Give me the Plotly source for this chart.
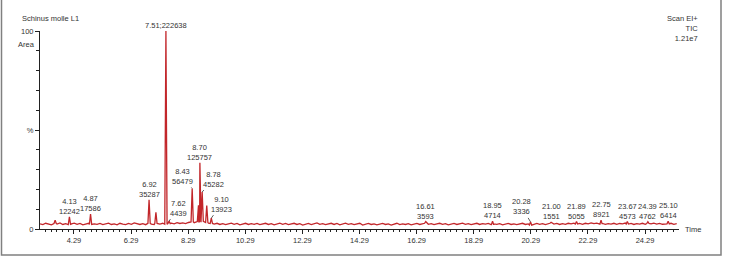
import plotly.graph_objects as go

# ---------------- data ----------------
BASE_START = 3.1   # min
BASE_STEP = 0.1    # min
baseline = [
    2.6, 2.2, 2.9, 2.4, 2.1, 2.8, 2.5, 3.1, 2.3, 2.7, 2.2, 2.6, 3.0, 2.4, 2.8, 2.1, 2.5, 2.9, 2.3, 2.6,
    2.4, 2.8, 2.2, 2.7, 3.0, 2.3, 2.6, 2.1, 2.9, 2.5, 2.2, 2.8, 2.4, 3.1, 2.6, 2.3, 2.7, 2.2, 2.9, 2.5,
    2.3, 2.8, 2.5, 2.9, 2.4, 2.7, 3.0, 2.6, 3.2, 2.8, 3.1, 2.7, 3.3, 3.6, 3.2, 3.8, 3.4, 3.9, 3.3, 3.0,
    2.8, 2.5, 2.9, 2.3, 2.7, 2.2, 2.6, 3.0, 2.4, 2.8, 2.1, 2.5, 2.9, 2.3, 2.7, 2.4, 2.8, 2.2, 2.6, 2.9,
    2.3, 2.7, 2.1, 2.6, 3.0, 2.4, 2.8, 2.2, 2.5, 2.9, 2.3, 2.7, 2.0, 2.5, 2.8, 2.2, 2.6, 3.1, 2.4, 2.7,
    2.2, 2.6, 2.9, 2.3, 2.8, 2.1, 2.5, 3.0, 2.4, 2.7, 2.2, 2.6, 2.9, 2.0, 2.4, 2.8, 2.3, 2.6, 2.1, 2.5,
    2.8, 2.3, 2.6, 2.0, 2.4, 2.9, 2.2, 2.6, 2.3, 2.7, 2.1, 2.5, 2.8, 2.3, 2.6, 2.9, 2.4, 2.7, 2.2, 2.6,
    2.9, 2.4, 2.7, 2.1, 2.5, 2.8, 2.3, 2.6, 3.0, 2.4, 2.7, 2.2, 2.6, 2.9, 2.3, 2.7, 2.5, 2.8, 2.2, 2.6,
    2.4, 2.7, 2.1, 2.5, 2.8, 2.3, 2.6, 2.2, 2.5, 2.9, 2.3, 2.6, 2.0, 2.5, 2.8, 2.4, 2.7, 2.2, 2.6, 2.9,
    2.5, 2.8, 2.3, 2.7, 2.4, 2.9, 2.6, 3.0, 2.5, 2.8, 2.4, 2.9, 2.6, 3.1, 2.7, 3.0, 2.5, 2.8, 2.4, 2.7,
    2.5, 2.9, 2.4, 2.8, 2.6, 3.0, 2.5, 2.8, 2.3, 2.7, 2.5, 2.9, 2.4, 2.8, 2.6, 3.0, 2.5, 2.8, 2.4, 2.7,
    2.6, 2.9, 2.4, 2.7,
]

# peaks: retention time (min), relative height (%)
peak_rt = [3.63, 4.13, 4.87, 6.92, 7.16, 7.51, 7.62, 8.43, 8.65, 8.70, 8.78, 8.94, 9.10,
           16.61, 18.95, 20.28, 21.00, 21.89, 22.75, 23.67, 24.39, 25.10]
peak_height = [4.5, 6.2, 7.6, 14.8, 8.5, 100.0, 4.0, 20.5, 12.0, 33.5, 18.7, 11.8, 5.5,
               3.8, 3.9, 3.6, 3.4, 3.8, 4.5, 3.8, 3.7, 3.9]

# labelled peaks
label_rt = [4.13, 4.87, 6.92, 7.51, 7.62, 8.43, 8.70, 8.78, 9.10,
            16.61, 18.95, 20.28, 21.00, 21.89, 22.75, 23.67, 24.39, 25.10]
label_area = [12242, 17586, 35287, 222638, 4439, 56479, 125757, 45282, 13923,
              3593, 4714, 3336, 1551, 5055, 8921, 4573, 4762, 6414]

x_ticks = [4.29, 6.29, 8.29, 10.29, 12.29, 14.29, 16.29, 18.29, 20.29, 22.29, 24.29]

# ---------------- build trace ----------------
HW = 0.04
times = [BASE_START + i * BASE_STEP for i in range(len(baseline))]
pts = list(zip(times, baseline))


def base_at(t):
    i = min(range(len(times)), key=lambda k: abs(times[k] - t))
    return baseline[i]


for rt in peak_rt:
    pts = [p for p in pts if abs(p[0] - rt) > HW]
for rt, h in zip(peak_rt, peak_height):
    b = base_at(rt)
    pts += [(rt - HW, b), (rt, h), (rt + HW, b)]
pts.sort(key=lambda p: p[0])

fig = go.Figure()
fig.add_trace(go.Scatter(
    x=[p[0] for p in pts], y=[p[1] for p in pts], mode="lines",
    line=dict(color="#C2262A", width=1.3), hoverinfo="skip", showlegend=False))

# ---------------- annotations ----------------
TXT = dict(family="Liberation Sans, Arial, sans-serif", size=7.5, color="#333333")
# arrow offsets (px) for labels with leader lines
arrow_off = {7.62: (9, -13), 8.43: (-10, -12), 8.78: (11, -13), 9.10: (10, -14), 20.28: (-9, -15)}
height_of = dict(zip(peak_rt, peak_height))
ann = []
for rt, area in zip(label_rt, label_area):
    h = height_of[rt]
    if rt == 7.51:
        txt = f"{rt:.2f};{area}"
    else:
        txt = f"{rt:.2f}<br>{area}"
    if rt in arrow_off:
        ax, ay = arrow_off[rt]
        ann.append(dict(x=rt, y=h, xref="x", yref="y", text=txt, showarrow=True,
                        ax=ax, ay=ay, arrowhead=0, arrowwidth=0.8, arrowcolor="#333333",
                        font=TXT, align="center", standoff=0))
    else:
        ann.append(dict(x=rt, y=h, xref="x", yref="y", text=txt, showarrow=False,
                        xanchor="center", yanchor="bottom", yshift=-1, font=TXT, align="center"))

W, H = 734, 263
ann += [
    dict(x=20 / W, y=1 - 15 / H, xref="paper", yref="paper", text="Schinus molle L1",
         showarrow=False, xanchor="left", yanchor="middle", font=TXT),
    dict(x=700 / W, y=1 - 8 / H, xref="paper", yref="paper", text="Scan EI+<br>TIC<br>1.21e7",
         showarrow=False, xanchor="right", yanchor="top", align="right", font=TXT),
    dict(x=37 / W, y=1 - 42 / H, xref="paper", yref="paper", text="Area",
         showarrow=False, xanchor="right", yanchor="middle", font=TXT),
    dict(x=683 / W, y=1 - 234 / H, xref="paper", yref="paper", text="Time",
         showarrow=False, xanchor="left", yanchor="middle", font=TXT),
]

fig.update_layout(
    width=W, height=H, margin=dict(l=0, r=0, t=0, b=0),
    paper_bgcolor="white", plot_bgcolor="white",
    annotations=ann,
    shapes=[dict(type="rect", xref="paper", yref="paper", x0=1.5 / W, x1=721 / W,
                 y0=1 - 260 / H, y1=1.05, line=dict(color="#808080", width=1.5))],
    xaxis=dict(domain=[40 / W, 679 / W], range=[3.10, 25.48], showgrid=False, zeroline=False,
               showline=True, linecolor="#222222", linewidth=1,
               tickvals=x_ticks, ticktext=[f"{v:.2f}" for v in x_ticks],
               ticks="outside", ticklen=4, tickcolor="#222222",
               minor=dict(tick0=4.29, dtick=0.2, ticks="outside", ticklen=2, tickcolor="#222222"),
               tickfont=TXT),
    yaxis=dict(domain=[1 - 233 / H, 1 - 28 / H], range=[0, 100], showgrid=False, zeroline=False,
               showline=True, linecolor="#222222", linewidth=1,
               tickvals=[0, 50, 100], ticktext=["0", "%", "100"],
               ticks="outside", ticklen=4, tickcolor="#222222",
               minor=dict(dtick=10, ticks="outside", ticklen=3, tickcolor="#222222"),
               tickfont=TXT),
)

fig.write_html("out.html")
